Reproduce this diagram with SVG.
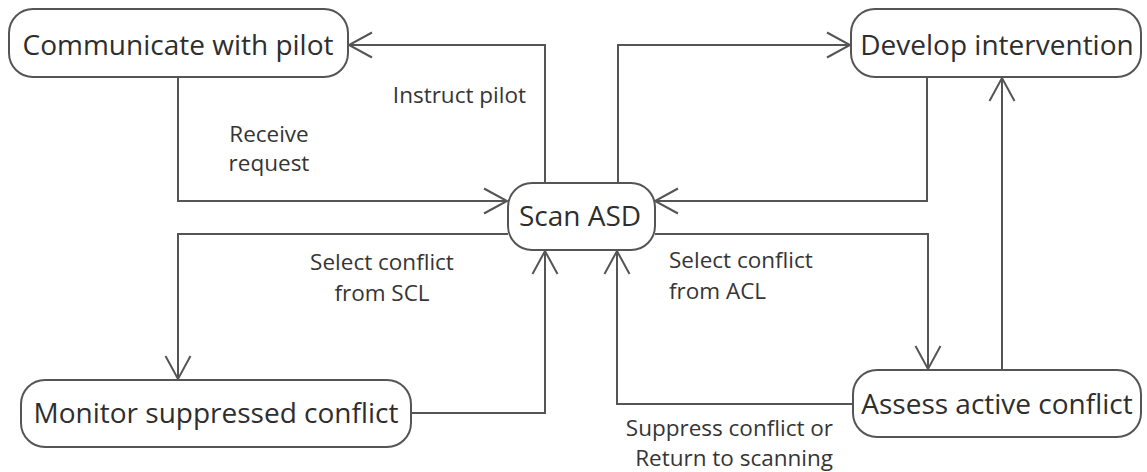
<svg xmlns="http://www.w3.org/2000/svg" width="1147" height="472" viewBox="0 0 1147 472">
  <style>
    .node rect { fill: #ffffff; stroke: #555555; stroke-width: 2; }
    .node text { font-family: "Open Sans", "Noto Sans", sans-serif; font-size: 28px; fill: #2e2e2e; text-anchor: middle; }
    .edge { fill: none; stroke: #555555; stroke-width: 2; marker-end: url(#open-arrow); }
    .label { font-family: "Open Sans", "Noto Sans", sans-serif; font-size: 22.5px; fill: #353535; }
  </style>
  <defs>
    <marker id="open-arrow" markerUnits="userSpaceOnUse" markerWidth="30" markerHeight="30" viewBox="-26 -15 28 30" refX="0" refY="0" orient="auto">
      <path d="M -23 -12.5 L 0 0 L -23 12.5" fill="none" stroke="#555555" stroke-width="2"/>
    </marker>
  </defs>
  <rect width="1147" height="472" fill="#ffffff"/>

  <!-- connectors -->
  <g id="connectors">
    <!-- Scan ASD -> Communicate with pilot -->
    <path class="edge" d="M 545 183 L 545 45 L 349 45"/>
    <!-- Communicate with pilot -> Scan ASD -->
    <path class="edge" d="M 178 77 L 178 201 L 507 201"/>
    <!-- Scan ASD -> Develop intervention -->
    <path class="edge" d="M 618 183 L 618 45 L 850 45"/>
    <!-- Develop intervention -> Scan ASD -->
    <path class="edge" d="M 927 77 L 927 201 L 655 201"/>
    <!-- Scan ASD -> Monitor suppressed conflict -->
    <path class="edge" d="M 508 234 L 178 234 L 178 379"/>
    <!-- Monitor suppressed conflict -> Scan ASD -->
    <path class="edge" d="M 411 413 L 545 413 L 545 251"/>
    <!-- Scan ASD -> Assess active conflict -->
    <path class="edge" d="M 655 234 L 928 234 L 928 369"/>
    <!-- Assess active conflict -> Scan ASD -->
    <path class="edge" d="M 853 404 L 617 404 L 617 251"/>
    <!-- Assess active conflict -> Develop intervention -->
    <path class="edge" d="M 1002 370 L 1002 78"/>

    <text class="label" x="526" y="103" text-anchor="end">Instruct pilot</text>
    <text class="label" x="269" y="142" text-anchor="middle">Receive</text>
    <text class="label" x="269" y="171" text-anchor="middle">request</text>
    <text class="label" x="382" y="270" text-anchor="middle">Select conflict</text>
    <text class="label" x="382" y="301" text-anchor="middle">from SCL</text>
    <text class="label" x="669" y="268" text-anchor="start">Select conflict</text>
    <text class="label" x="669" y="299" text-anchor="start">from ACL</text>
    <text class="label" x="833" y="436" text-anchor="end">Suppress conflict or</text>
    <text class="label" x="833" y="466" text-anchor="end">Return to scanning</text>
  </g>

  <g id="communicate" class="node">
    <rect x="9" y="9" width="339" height="68" rx="24" ry="24"/>
    <text x="178" y="55">Communicate with pilot</text>
  </g>
  <g id="develop" class="node">
    <rect x="851" y="9" width="290" height="68" rx="24" ry="24"/>
    <text x="997" y="55">Develop intervention</text>
  </g>
  <g id="scan" class="node">
    <rect x="508" y="183" width="147" height="67" rx="24" ry="24"/>
    <text x="580" y="226">Scan ASD</text>
  </g>
  <g id="monitor" class="node">
    <rect x="21" y="380" width="390" height="67" rx="24" ry="24"/>
    <text x="216" y="423">Monitor suppressed conflict</text>
  </g>
  <g id="assess" class="node">
    <rect x="853" y="370" width="288" height="67" rx="24" ry="24"/>
    <text x="997" y="414">Assess active conflict</text>
  </g>
</svg>
